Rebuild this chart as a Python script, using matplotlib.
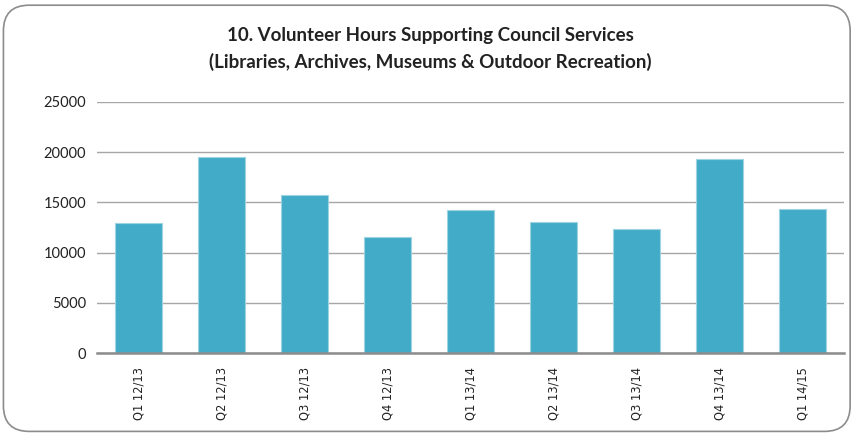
import matplotlib
matplotlib.use("Agg")
import matplotlib.pyplot as plt
from matplotlib.patches import FancyBboxPatch

categories = ["Q1 12/13", "Q2 12/13", "Q3 12/13", "Q4 12/13", "Q1 13/14",
              "Q2 13/14", "Q3 13/14", "Q4 13/14", "Q1 14/15"]
hours = [12950, 19500, 15700, 11550, 14250, 13050, 12350, 19300, 14300]
yticks = [0, 5000, 10000, 15000, 20000, 25000]

fig = plt.figure(figsize=(8.57, 4.34), dpi=100)

border = FancyBboxPatch((0.004, 0.006), 0.988, 0.982,
                        boxstyle="round,pad=0,rounding_size=0.03",
                        transform=fig.transFigure, facecolor="none",
                        edgecolor="#8c8c8c", linewidth=1.2,
                        mutation_aspect=857/434, zorder=-5)
fig.patches.append(border)

ax = fig.add_axes([0.1132, 0.1866, 0.8718, 0.5784])
ax.set_facecolor("none")
x = range(len(categories))
ax.bar(x, hours, width=0.56, color="#42ABC7", edgecolor="#9ED3E2",
       linewidth=0.8, zorder=3)
ax.set_xlim(-0.5, len(categories) - 0.5)
ax.set_ylim(0, 25000)
ax.set_yticks(yticks)
ax.set_yticklabels([str(v) for v in yticks], fontsize=10.5,
                   family="Lato", color="#222222")
ax.set_xticks(list(x))
ax.set_xticklabels(categories, rotation=90, fontsize=8.3,
                   family="DejaVu Sans", color="#222222")
ax.grid(axis="y", color="#a6a6a6", linewidth=1.0, zorder=0)
for s in ["top", "right", "left"]:
    ax.spines[s].set_visible(False)
ax.spines["bottom"].set_color("#8c8c8c")
ax.spines["bottom"].set_linewidth(1.8)
ax.spines["bottom"].set_zorder(4)
ax.tick_params(axis="both", length=0, pad=8)
ax.tick_params(axis="x", pad=10)

fig.text(0.502, 0.918, "10. Volunteer Hours Supporting Council Services",
         ha="center", va="center", fontsize=13.5, fontweight="bold",
         family="Lato", color="#222222")
fig.text(0.502, 0.857, "(Libraries, Archives, Museums & Outdoor Recreation)",
         ha="center", va="center", fontsize=13.5, fontweight="bold",
         family="Lato", color="#222222")

fig.savefig("out.png", dpi=100)
